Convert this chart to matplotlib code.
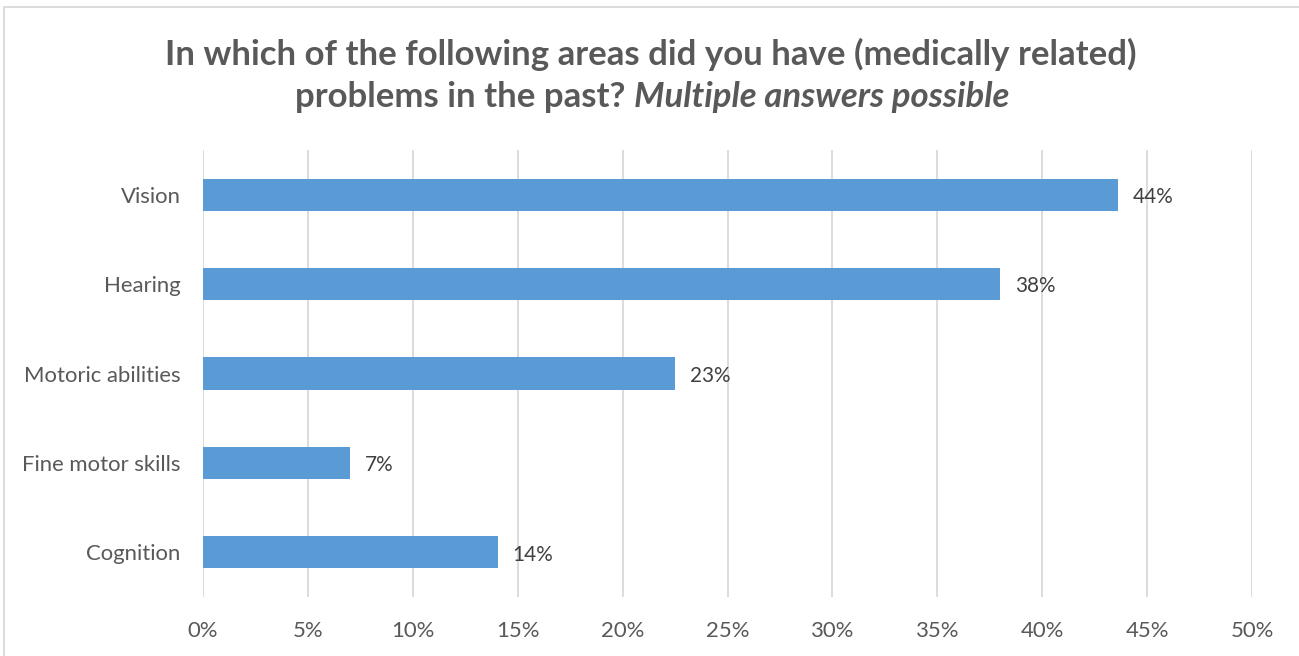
import matplotlib
matplotlib.use("Agg")
import matplotlib.pyplot as plt
from matplotlib.patches import Rectangle

categories = ["Vision", "Hearing", "Motoric abilities", "Fine motor skills", "Cognition"]
values = [43.6, 38.0, 22.5, 7.0, 14.05]
labels = ["44%", "38%", "23%", "7%", "14%"]
xticks = [0, 5, 10, 15, 20, 25, 30, 35, 40, 45, 50]
xticklabels = [f"{t}%" for t in xticks]

FONT = "Lato"
plt.rcParams["font.family"] = [FONT, "DejaVu Sans"]

W, H = 1299, 656
fig = plt.figure(figsize=(W / 100, H / 100), dpi=100)
fig.patch.set_facecolor("white")
r = fig.canvas.get_renderer()


def fit_size(text, target_px, **kw):
    t = fig.text(0, 0, text, fontsize=10, **kw)
    w = t.get_window_extent(r).width
    t.remove()
    return 10 * target_px / w


lab_size = fit_size("Motoric abilities", 158)
val_size = fit_size("44%", 41)
title_size = fit_size("In which of the following areas did you have (medically related)", 977,
                      fontweight="bold")

# outer chart border (top & left visible)
fig.add_artist(Rectangle((3.5 / W, -0.05), 1.2, (H - 6.5) / H + 0.05,
                         transform=fig.transFigure, fill=False,
                         edgecolor="#D9D9D9", linewidth=1.3))

ax = fig.add_axes([203 / W, 59 / H, (1252 - 203) / W, (597 - 150) / H])
y = list(range(len(categories)))
ax.barh(y, values, height=0.36, color="#5B9BD5", zorder=3)
ax.set_ylim(len(categories) - 0.5, -0.5)
ax.set_xlim(0, 50)
ax.set_yticks(y)
ax.set_yticklabels(categories, fontsize=lab_size, color="#595959")
ax.set_xticks(xticks)
ax.set_xticklabels(xticklabels, fontsize=lab_size, color="#595959")
ax.tick_params(axis="y", length=0, pad=16)
ax.tick_params(axis="x", length=0, pad=17)
for s in ax.spines.values():
    s.set_visible(False)
ax.grid(axis="x", color="#D9D9D9", linewidth=1.3, zorder=0)
ax.set_axisbelow(True)

for yi, v, lab in zip(y, values, labels):
    ax.annotate(lab, (v, yi), xytext=(10.5, -1.6), textcoords="offset points",
                ha="left", va="center", fontsize=val_size, color="#404040")

# title
tcol = "#595959"
fig.text(651 / W, 1 - 54 / H, "In which of the following areas did you have (medically related)",
         ha="center", va="center", fontsize=title_size, fontweight="bold", color=tcol)
t1 = fig.text(0, 1 - 97 / H, "problems in the past? ", ha="left", va="center",
              fontsize=title_size, fontweight="bold", color=tcol)
t2 = fig.text(0, 1 - 97 / H, "Multiple answers possible", ha="left", va="center",
              fontsize=title_size, fontweight="bold", fontstyle="italic", color=tcol)
w1 = t1.get_window_extent(r).width
w2 = t2.get_window_extent(r).width
x0 = 652 - (w1 + w2) / 2
t1.set_x(x0 / W)
t2.set_x((x0 + w1) / W)

fig.savefig("out.png", dpi=100)
